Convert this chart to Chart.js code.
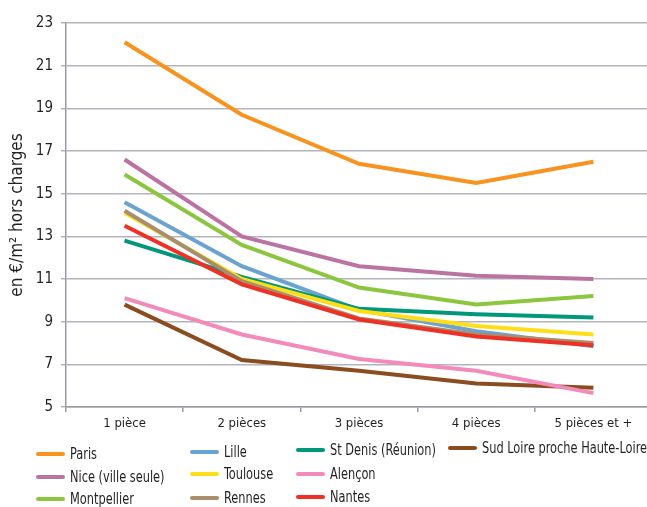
<!DOCTYPE html>
<html lang="fr">
<head>
<meta charset="utf-8">
<title>Loyers au m² selon le nombre de pièces</title>
<script src="https://cdn.jsdelivr.net/npm/chart.js@4.4.1/dist/chart.umd.min.js"></script>
<style>
  html, body { margin: 0; padding: 0; background: #fff; overflow: hidden; }
  body { width: 647px; height: 507px; position: relative; }
  #wrap { position: absolute; left: 0; top: 0; width: 652px; height: 440px; }
  #legend { position: absolute; left: 0; top: 0; width: 647px; height: 507px; pointer-events: none;
            font-family: "DejaVu Sans Condensed", "Liberation Sans Narrow", sans-serif; font-size: 16px; color: #231f20; }
  .item { position: absolute; height: 20px; }
  .swatch { position: absolute; left: 0; top: 8px; width: 29px; height: 4px; border-radius: 2px; }
  .text { position: absolute; left: 34px; top: 0; line-height: 20px; white-space: nowrap;
          transform: scaleX(0.79); transform-origin: 0 50%; }
</style>
</head>
<body>
<div id="wrap"><canvas id="chart" width="652" height="440"></canvas></div>
<div id="legend"></div>
<script>
// Categories (number of rooms)
const categories = ["1 pièce", "2 pièces", "3 pièces", "4 pièces", "5 pièces et +"];

// Rent per m², excluding charges, by city
const paris       = [22.1, 18.7, 16.4, 15.5, 16.5];
const lille       = [14.6, 11.6, 9.55, 8.55, 7.85];
const stDenis     = [12.8, 11.1, 9.6, 9.35, 9.2];
const sudLoire    = [9.8, 7.2, 6.7, 6.1, 5.9];
const nice        = [16.6, 13.0, 11.6, 11.15, 11.0];
const toulouse    = [14.1, 11.0, 9.5, 8.8, 8.4];
const alencon     = [10.1, 8.4, 7.25, 6.7, 5.65];
const montpellier = [15.9, 12.6, 10.6, 9.8, 10.2];
const rennes      = [14.2, 10.9, 9.15, 8.4, 8.0];
const nantes      = [13.5, 10.75, 9.1, 8.3, 7.9];

// Y axis ticks
const yTicks = [5, 7, 9, 11, 13, 15, 17, 19, 21, 23];

const seriesNames = ["Paris", "Lille", "St Denis (Réunion)", "Sud Loire proche Haute-Loire",
                     "Nice (ville seule)", "Toulouse", "Alençon",
                     "Montpellier", "Rennes", "Nantes"];
const seriesValues = [paris, lille, stDenis, sudLoire, nice, toulouse, alencon, montpellier, rennes, nantes];
const seriesColors = ["#f7931e", "#6ba3d0", "#00977a", "#8b4c1f",
                      "#bb73a2", "#ffde17", "#f38bba",
                      "#8cc63f", "#a88e6c", "#ee3124"];

const FONT = '"DejaVu Sans Condensed", "Liberation Sans Narrow", sans-serif';

const datasets = seriesNames.map((name, i) => ({
  label: name,
  data: seriesValues[i],
  borderColor: seriesColors[i],
  backgroundColor: seriesColors[i],
  borderWidth: 4,
  pointRadius: 0,
  tension: 0,
  fill: false,
  // later series are painted on top
  order: seriesNames.length - i
}));

new Chart(document.getElementById("chart"), {
  type: "line",
  data: { labels: categories, datasets },
  options: {
    responsive: false,
    animation: false,
    devicePixelRatio: 1,
    layout: { padding: { top: 23, right: 0, bottom: 0, left: 0 } },
    plugins: { legend: { display: false }, tooltip: { enabled: false } },
    scales: {
      x: {
        offset: true,
        afterFit: s => { s.height = 33; },
        grid: { offset: true, drawOnChartArea: false, drawTicks: true, tickLength: 5, color: "#9a9aa2", lineWidth: 1.5 },
        border: { color: "#9a9aa2", width: 1.5 },
        ticks: { color: "#231f20", font: { family: FONT, size: 13 }, padding: 4, maxRotation: 0 }
      },
      y: {
        min: 5, max: 23,
        afterFit: s => { s.width = 66; },
        afterBuildTicks: s => { s.ticks = yTicks.map(v => ({ value: v })); },
        grid: { color: "#b4b4bc", lineWidth: 1.5, tickLength: 5, drawTicks: true },
        border: { color: "#9a9aa2", width: 1.5 },
        ticks: { color: "#231f20", font: { family: FONT, size: 15 }, padding: 8 },
        title: { display: true, text: "en €/m² hors charges", color: "#231f20",
                 font: { family: FONT, size: 17 }, padding: { top: 7, bottom: 0 } }
      }
    }
  }
});

// Legend: four columns, three rows
const legend = document.getElementById("legend");
const place = {
  "Paris": [36, 454], "Nice (ville seule)": [36, 477], "Montpellier": [36, 499],
  "Lille": [190, 452], "Toulouse": [190, 474], "Rennes": [190, 498],
  "St Denis (Réunion)": [296, 450], "Alençon": [296, 474], "Nantes": [296, 497],
  "Sud Loire proche Haute-Loire": [448, 448]
};
seriesNames.forEach((name, i) => {
  const [x, y] = place[name];
  const el = document.createElement("div");
  el.className = "item";
  el.style.left = x + "px";
  el.style.top = (y - 10) + "px";
  const sw = document.createElement("div");
  sw.className = "swatch";
  sw.style.background = seriesColors[i];
  const tx = document.createElement("div");
  tx.className = "text";
  tx.textContent = name;
  el.appendChild(sw);
  el.appendChild(tx);
  legend.appendChild(el);
});
</script>
</body>
</html>
